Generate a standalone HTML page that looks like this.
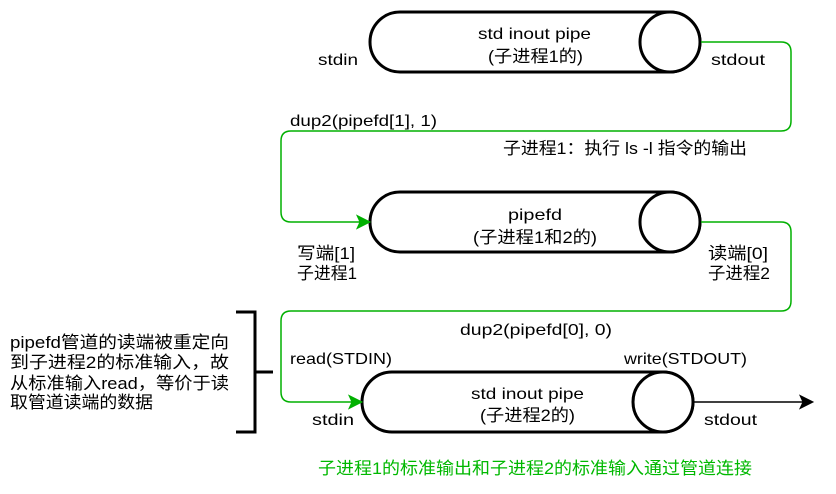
<!DOCTYPE html>
<html>
<head>
<meta charset="utf-8">
<style>
  html, body { margin: 0; padding: 0; background: #ffffff; }
  body { width: 836px; height: 494px; overflow: hidden; }
  svg { display: block; }
  .c { font-family: "Liberation Sans", "Noto Sans CJK SC", sans-serif; fill: #000; }
  .lat { font-size: 16px; }
  .cjk { font-size: 17px; }
</style>
</head>
<body>
<svg width="836" height="494" viewBox="0 0 836 494" xmlns="http://www.w3.org/2000/svg">
  <!-- Cylinder 1 -->
  <path d="M 400 12 L 670 12 A 30 30 0 0 1 670 72 L 400 72 A 30 30 0 0 1 400 12 Z" fill="#fff" stroke="#000" stroke-width="3"/>
  <circle cx="670" cy="42" r="30" fill="#fff" stroke="#000" stroke-width="3"/>
  <!-- Cylinder 2 -->
  <path d="M 400 192 L 670 192 A 30 30 0 0 1 670 252 L 400 252 A 30 30 0 0 1 400 192 Z" fill="#fff" stroke="#000" stroke-width="3"/>
  <circle cx="670" cy="222" r="30" fill="#fff" stroke="#000" stroke-width="3"/>
  <!-- Cylinder 3 -->
  <path d="M 392 372 L 663 372 A 30 30 0 0 1 663 432 L 392 432 A 30 30 0 0 1 392 372 Z" fill="#fff" stroke="#000" stroke-width="3"/>
  <circle cx="663" cy="402" r="30" fill="#fff" stroke="#000" stroke-width="3"/>

  <!-- Green connector 1 -->
  <path d="M 701 42 H 781 Q 791 42 791 52 V 121 Q 791 131 781 131 H 291 Q 281 131 281 141 V 212 Q 281 222 291 222 H 360" fill="none" stroke="#00b000" stroke-width="1.5"/>
  <path d="M 370 222 L 357 215.5 L 360 222 L 357 228.5 Z" fill="#00b000" stroke="#00b000" stroke-width="1"/>
  <!-- Green connector 2 -->
  <path d="M 701 222 H 781 Q 791 222 791 232 V 301 Q 791 311 781 311 H 291 Q 281 311 281 321 V 392 Q 281 402 291 402 H 352" fill="none" stroke="#00b000" stroke-width="1.5"/>
  <path d="M 362 402 L 349 395.5 L 352 402 L 349 408.5 Z" fill="#00b000" stroke="#00b000" stroke-width="1"/>
  <!-- Black output arrow -->
  <path d="M 693 402 H 803" fill="none" stroke="#000" stroke-width="1.5"/>
  <path d="M 813 402 L 800 395.5 L 803 402 L 800 408.5 Z" fill="#000" stroke="#000" stroke-width="1"/>

  <!-- Bracket -->
  <path d="M 236 312 H 255 V 432 H 236" fill="none" stroke="#000" stroke-width="3"/>
  <path d="M 255 372 H 273" fill="none" stroke="#000" stroke-width="3"/>

  <!-- Cylinder 1 labels -->
  <text class="c lat" x="478" y="39" textLength="113" lengthAdjust="spacingAndGlyphs">std inout pipe</text>
  <text class="c cjk" x="488" y="62" textLength="95" lengthAdjust="spacingAndGlyphs">(子进程1的)</text>
  <text class="c lat" x="318" y="65" textLength="40" lengthAdjust="spacingAndGlyphs">stdin</text>
  <text class="c lat" x="711" y="65" textLength="54" lengthAdjust="spacingAndGlyphs">stdout</text>

  <text class="c lat" x="290" y="126" textLength="147" lengthAdjust="spacingAndGlyphs">dup2(pipefd[1], 1)</text>
  <text class="c cjk" x="503" y="154" textLength="244" lengthAdjust="spacingAndGlyphs">子进程1：执行 ls -l 指令的输出</text>

  <!-- Cylinder 2 labels -->
  <text class="c lat" x="508" y="220" textLength="54" lengthAdjust="spacingAndGlyphs">pipefd</text>
  <text class="c cjk" x="473" y="243" textLength="124" lengthAdjust="spacingAndGlyphs">(子进程1和2的)</text>
  <text class="c cjk" x="297" y="259" textLength="58" lengthAdjust="spacingAndGlyphs">写端[1]</text>
  <text class="c cjk" x="297" y="279" textLength="60" lengthAdjust="spacingAndGlyphs">子进程1</text>
  <text class="c cjk" x="708" y="259" textLength="60" lengthAdjust="spacingAndGlyphs">读端[0]</text>
  <text class="c cjk" x="708" y="279" textLength="62" lengthAdjust="spacingAndGlyphs">子进程2</text>

  <text class="c lat" x="460" y="335" textLength="152" lengthAdjust="spacingAndGlyphs">dup2(pipefd[0], 0)</text>
  <text class="c lat" x="290" y="364" textLength="102" lengthAdjust="spacingAndGlyphs">read(STDIN)</text>
  <text class="c lat" x="624" y="364" textLength="123" lengthAdjust="spacingAndGlyphs">write(STDOUT)</text>

  <!-- Cylinder 3 labels -->
  <text class="c lat" x="471" y="399" textLength="113" lengthAdjust="spacingAndGlyphs">std inout pipe</text>
  <text class="c cjk" x="480" y="421" textLength="95" lengthAdjust="spacingAndGlyphs">(子进程2的)</text>
  <text class="c lat" x="312" y="425" textLength="42" lengthAdjust="spacingAndGlyphs">stdin</text>
  <text class="c lat" x="704" y="425" textLength="53" lengthAdjust="spacingAndGlyphs">stdout</text>

  <!-- Left note -->
  <text class="c cjk" x="10" y="348" textLength="219" lengthAdjust="spacingAndGlyphs">pipefd管道的读端被重定向</text>
  <text class="c cjk" x="10" y="368" textLength="219" lengthAdjust="spacingAndGlyphs">到子进程2的标准输入，故</text>
  <text class="c cjk" x="10" y="389" textLength="219" lengthAdjust="spacingAndGlyphs">从标准输入read，等价于读</text>
  <text class="c cjk" x="10" y="408" textLength="143" lengthAdjust="spacingAndGlyphs">取管道读端的数据</text>

  <!-- Bottom green caption -->
  <text class="c cjk" x="318" y="474" textLength="434" lengthAdjust="spacingAndGlyphs" style="fill:#00b800">子进程1的标准输出和子进程2的标准输入通过管道连接</text>
</svg>
</body>
</html>
